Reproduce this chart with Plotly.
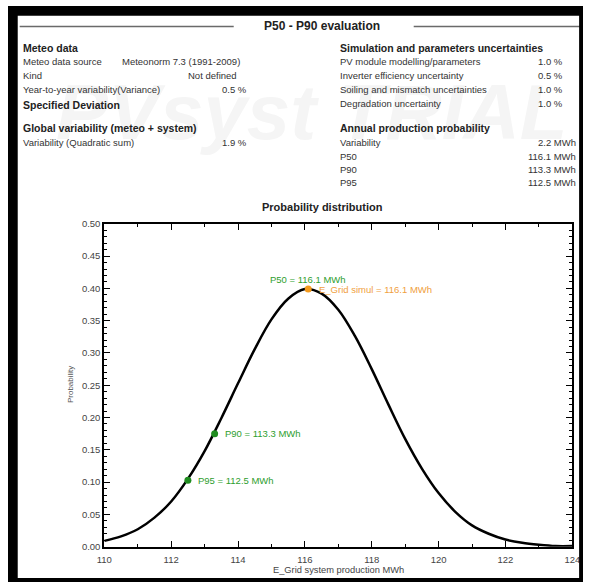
import plotly.graph_objects as go

# ---------------- data ----------------
e_grid = [110.0, 110.5, 111.0, 111.5, 112.0, 112.5, 113.0, 113.5, 114.0, 114.5,
          115.0, 115.5, 116.0, 116.5, 117.0, 117.5, 118.0, 118.5, 119.0, 119.5,
          120.0, 120.5, 121.0, 121.5, 122.0, 122.5, 123.0, 123.5, 124.0]
probability = [0.009, 0.016, 0.027, 0.045, 0.070, 0.105, 0.148, 0.199, 0.253, 0.306,
               0.352, 0.384, 0.399, 0.392, 0.367, 0.326, 0.275, 0.220, 0.167, 0.121,
               0.083, 0.054, 0.033, 0.020, 0.011, 0.006, 0.003, 0.001, 0.001]

p_names = ["P90", "P95"]
p_values = [113.3, 112.5]
p_prob = [0.175, 0.103]
p50_value = 116.1
p50_prob = 0.399

meteo_rows = [("Meteo data source", "Meteonorm 7.3 (1991-2009)", ""),
              ("Kind", "Not defined", ""),
              ("Year-to-year variability(Variance)", "", "0.5 %")]
global_rows = [("Variability (Quadratic sum)", "1.9 %")]
sim_rows = [("PV module modelling/parameters", "1.0 %"),
            ("Inverter efficiency uncertainty", "0.5 %"),
            ("Soiling and mismatch uncertainties", "1.0 %"),
            ("Degradation uncertainty", "1.0 %")]
annual_rows = [("Variability", "2.2 MWh"),
               ("P50", "116.1 MWh"),
               ("P90", "113.3 MWh"),
               ("P95", "112.5 MWh")]

# ---------------- layout helpers ----------------
W, H = 591, 587
FONT = "Liberation Sans, Arial, sans-serif"


def X(px):
    return px / W


def Y(py):
    return 1 - py / H


annotations = []
shapes = []


def txt(x, y, s, size=10, color="#333333", anchor="left", bold=False):
    annotations.append(dict(
        x=X(x), y=Y(y), xref="paper", yref="paper", text=("<b>%s</b>" % s) if bold else s,
        showarrow=False, xanchor=anchor, yanchor="middle",
        font=dict(family=FONT, size=size, color=color)))


# watermark (very faint)
annotations.append(dict(x=X(312), y=Y(108), xref="paper", yref="paper",
                        text="<b><i>PVsyst TRIAL</i></b>", showarrow=False,
                        xanchor="center", yanchor="middle",
                        font=dict(family=FONT, size=78, color="#f5f5f5")))

# header
txt(323, 20, "P50 - P90 evaluation", size=12, color="#222222", anchor="center", bold=True)
for x0, x1 in [(12, 232), (417, 588)]:
    shapes.append(dict(type="line", xref="paper", yref="paper", x0=X(x0), x1=X(x1),
                       y0=Y(21), y1=Y(21), line=dict(color="#6a6a6a", width=1.5)))

# left column
txt(13, 43, "Meteo data", size=10.5, color="#222222", bold=True)
ys = [57, 71, 85]
for (lab, v1, v2), yy in zip(meteo_rows, ys):
    txt(13, yy, lab, size=9.5)
    if lab == "Meteo data source":
        txt(115, yy, v1, size=9.5)
    elif v1:
        txt(237, yy, v1, size=9.5, anchor="right")
    if v2:
        txt(248, yy, v2, size=9.5, anchor="right")
txt(13, 101, "Specified Deviation", size=10.5, color="#222222", bold=True)
txt(13, 124, "Global variability (meteo + system)", size=10.5, color="#222222", bold=True)
for (lab, v), yy in zip(global_rows, [139]):
    txt(13, yy, lab, size=9.5)
    txt(248, yy, v, size=9.5, anchor="right")

# right column
txt(339, 43, "Simulation and parameters uncertainties", size=10.5, color="#222222", bold=True)
for (lab, v), yy in zip(sim_rows, [57, 71, 85, 99]):
    txt(339, yy, lab, size=9.5)
    txt(573, yy, v, size=9.5, anchor="right")
txt(339, 124, "Annual production probability", size=10.5, color="#222222", bold=True)
for (lab, v), yy in zip(annual_rows, [139, 153, 167, 180]):
    txt(339, yy, lab, size=9.5)
    txt(586, yy, v, size=9.5, anchor="right")

# chart titles
txt(323, 205, "Probability distribution", size=11, color="#222222", anchor="center", bold=True)
txt(340, 575, "E_Grid system production MWh", size=9.3, color="#444444", anchor="center")
annotations.append(dict(x=X(64), y=Y(386), xref="paper", yref="paper", text="Probability",
                        showarrow=False, textangle=-90, xanchor="center", yanchor="middle",
                        font=dict(family=FONT, size=8, color="#555555")))

# point labels
GREEN_T = "#2e9e2e"
ORANGE_T = "#f0a040"
for n, xv, yv in zip(p_names, p_values, p_prob):
    annotations.append(dict(x=xv, y=yv, xref="x", yref="y", text="%s = %.1f MWh" % (n, xv),
                            showarrow=False, xanchor="left", yanchor="middle", xshift=8,
                            font=dict(family=FONT, size=9.5, color=GREEN_T)))
annotations.append(dict(x=p50_value, y=p50_prob, xref="x", yref="y",
                        text="P50 = %.1f MWh" % p50_value, showarrow=False,
                        xanchor="center", yanchor="middle", yshift=10,
                        font=dict(family=FONT, size=9.5, color=GREEN_T)))
annotations.append(dict(x=p50_value, y=p50_prob, xref="x", yref="y",
                        text="E_Grid simul = %.1f MWh" % p50_value, showarrow=False,
                        xanchor="left", yanchor="middle", xshift=9,
                        font=dict(family=FONT, size=9.5, color=ORANGE_T)))

# black frame
for x0, y0, x1, y1 in [(0, 0, W, 10), (0, 0, 10, H), (587, 0, W, H), (0, 583, W, H)]:
    shapes.append(dict(type="rect", xref="paper", yref="paper", x0=X(x0), x1=X(x1),
                       y0=Y(y1), y1=Y(y0), fillcolor="black", line=dict(width=0), layer="above"))

# ---------------- figure ----------------
fig = go.Figure()
fig.add_trace(go.Scatter(x=e_grid, y=probability, mode="lines",
                         line=dict(color="black", width=2.5, shape="spline", smoothing=1.0),
                         hoverinfo="skip"))
fig.add_trace(go.Scatter(x=p_values, y=p_prob, mode="markers",
                         marker=dict(color="#1f8c1f", size=7), hoverinfo="skip"))
fig.add_trace(go.Scatter(x=[p50_value], y=[p50_prob], mode="markers",
                         marker=dict(color="#f39a1e", size=7), hoverinfo="skip"))

axis_common = dict(showline=True, linecolor="black", linewidth=2, mirror="ticks",
                   ticks="inside", ticklen=6, tickwidth=1.3, tickcolor="black",
                   showgrid=False, zeroline=False,
                   tickfont=dict(family=FONT, size=9.5, color="#444444"))

fig.update_layout(
    width=W, height=H, margin=dict(l=0, r=0, t=0, b=0, pad=0),
    paper_bgcolor="white", plot_bgcolor="white", showlegend=False,
    xaxis=dict(domain=[X(99), X(580)], range=[110, 124], dtick=2, tick0=110,
               ticklabelstandoff=3,
               minor=dict(dtick=1, ticks="inside", ticklen=3, tickcolor="black"),
               **axis_common),
    yaxis=dict(domain=[Y(551), Y(222)], range=[0, 0.5], dtick=0.05, tick0=0,
               tickformat=".2f",
               minor=dict(dtick=0.01, ticks="inside", ticklen=3, tickcolor="black"),
               **axis_common),
    annotations=annotations, shapes=shapes,
)

fig.write_html("out.html")
